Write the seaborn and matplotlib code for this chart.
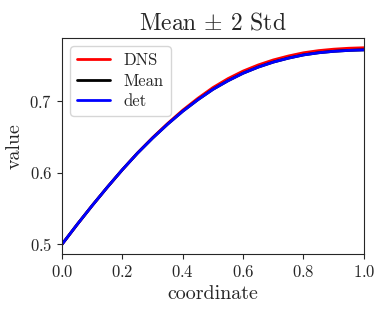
import numpy as np
import seaborn as sns
import matplotlib.pyplot as plt

# values
coordinate = np.linspace(0.0, 1.0, 21)
det = [0.5000, 0.5275, 0.5540, 0.5795, 0.6040, 0.6270, 0.6480, 0.6675, 0.6855, 0.7015,
       0.7160, 0.7280, 0.7385, 0.7470, 0.7540, 0.7595, 0.7640, 0.7670, 0.7690, 0.7703, 0.7710]
mean = [0.5000, 0.5275, 0.5540, 0.5795, 0.6040, 0.6270, 0.6480, 0.6675, 0.6855, 0.7015,
        0.7160, 0.7280, 0.7385, 0.7470, 0.7540, 0.7595, 0.7640, 0.7670, 0.7690, 0.7703, 0.7710]
dns = [0.5000, 0.5275, 0.5540, 0.5795, 0.6040, 0.6273, 0.6487, 0.6685, 0.6870, 0.7035,
       0.7185, 0.7310, 0.7415, 0.7500, 0.7570, 0.7625, 0.7670, 0.7700, 0.7720, 0.7733, 0.7740]

sns.set_style("ticks")
plt.rcParams['font.family'] = 'serif'
plt.rcParams['font.serif'] = ['cmr10', 'DejaVu Serif']
plt.rcParams['mathtext.fontset'] = 'cm'
plt.rcParams['axes.formatter.use_mathtext'] = True

fig, ax = plt.subplots(figsize=(3.83, 3.16), dpi=100)
fig.subplots_adjust(left=0.162, right=0.950, top=0.880, bottom=0.196)

sns.lineplot(x=coordinate, y=dns, color='red', lw=2, label='DNS', ax=ax)
sns.lineplot(x=coordinate, y=mean, color='black', lw=2, label='Mean', ax=ax)
sns.lineplot(x=coordinate, y=det, color='blue', lw=2, label='det', ax=ax)

ax.set_xlim(0, 1)
ax.set_xticks([0.0, 0.2, 0.4, 0.6, 0.8, 1.0])
ax.set_yticks([0.5, 0.6, 0.7])
ax.tick_params(labelsize=12)
ax.set_title(r'Mean $\pm$ 2 Std', fontsize=17)
ax.set_xlabel('coordinate', fontsize=14.4)
ax.set_ylabel('value', fontsize=14.4)
ax.legend(loc='upper left', fontsize=12, labelspacing=0.3)

plt.savefig('out.png', dpi=100)
